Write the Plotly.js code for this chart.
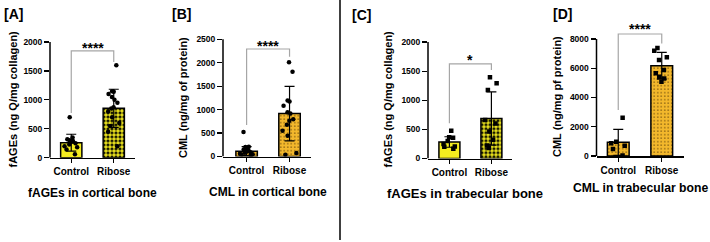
<!DOCTYPE html>
<html><head><meta charset="utf-8">
<script src="https://cdn.plot.ly/plotly-3.0.1.min.js"></script>
<style>html,body{margin:0;padding:0;background:#fff}#chart{width:710px;height:242px}</style>
</head><body><div id="chart"></div>
<script>
const categories = ['Control', 'Ribose'];

// [A] fAGEs in cortical bone
const aMeans = [259, 854];
const aSD = [146, 329];
const aControl = [700, 350, 320, 300, 290, 270, 250, 230, 200, 180, 140, 60];
const aRibose = [1600, 1150, 1140, 1100, 1050, 1000, 950, 870, 850, 800, 700, 600, 550, 450, 200];
const aTicks = [0, 500, 1000, 1500, 2000];

// [B] CML in cortical bone
const bMeans = [113, 915];
const bSD = [96, 580];
const bControl = [520, 210, 200, 170, 150, 130, 120, 100, 90, 80, 60, 50, 40, 30];
const bRibose = [2010, 1810, 1193, 1171, 1080, 945, 916, 796, 760, 675, 547, 441, 72, 36];
const bTicks = [0, 500, 1000, 1500, 2000, 2500];

// [C] fAGEs in trabecular bone
const cMeans = [283, 688];
const cSD = [90, 457];
const cControl = [475, 365, 355, 300, 250, 206, 200, 166];
const cRibose = [1395, 1292, 1178, 663, 600, 463, 321, 223, 180];
const cTicks = [0, 500, 1000, 1500, 2000];

// [D] CML in trabecular bone
const dMeans = [936, 6170];
const dSD = [887, 920];
const dControl = [2618, 980, 866, 700, 478, 30];
const dRibose = [7385, 7200, 6750, 6564, 5880, 5653, 5425, 5300, 5083];
const dTicks = [0, 2000, 4000, 6000, 8000];

const significance = ['****', '****', '*', '****'];
const panelLabels = ['[A]', '[B]', '[C]', '[D]'];
const yTitles = ['fAGEs (ng Q/mg collagen)', 'CML (ng/mg of protein)', 'fAGEs (ng Q/mg collagen)', 'CML (ng/mg pf protein)'];
const bottomTitles = ['fAGEs in cortical bone', 'CML in cortical bone', 'fAGEs in trabecular bone', 'CML in trabecular bone'];

// ---------- styling / layout ----------
const W = 710, H = 242;
const FONT = 'Arial, "Liberation Sans", Helvetica, sans-serif';
const YELLOW = '#f4ec1f';
const GOLD = '#f3b82c';
const CHECK = {color: '#ede51e', shape: '.', fg: '#1a1a00', size: 4, sol: 0.5};
const PLAIN = {color: YELLOW, shape: '', fg: '#000', size: 4, sol: 0.3};
const DOTS = {color: GOLD, shape: '.', fg: '#6e4c0c', size: 3.5, sol: 0.14};

const panels = [
  {means: aMeans, sd: aSD, ctrl: aControl, rib: aRibose, ticks: aTicks, rmax: 2400,
   xpx: [50, 135], xr: [-0.5, 1.5], zeroPx: 157.7, topTickPx: 42,
   pat: [PLAIN, CHECK],
   symbol: 'circle', br: [772, 1846, 1656], starPx: 47.5, starSize: 14,
   label: [13, 14], ytitle: [12, 99.5], btitle: [92.2, 192.7, 12]},
  {means: bMeans, sd: bSD, ctrl: bControl, rib: bRibose, ticks: bTicks, rmax: 3000,
   xpx: [223, 311], xr: [-0.55, 1.5], zeroPx: 156.5, topTickPx: 39.3,
   pat: [DOTS, DOTS],
   symbol: 'circle', br: [673, 2293, 2130], starPx: 45.8, starSize: 14,
   label: [181, 14], ytitle: [183, 98], btitle: [268.3, 191.7, 12]},
  {means: cMeans, sd: cSD, ctrl: cControl, rib: cRibose, ticks: cTicks, rmax: 2400,
   xpx: [428, 512.4], xr: [-0.51, 1.5], zeroPx: 158.5, topTickPx: 42,
   pat: [PLAIN, CHECK],
   symbol: 'square', br: [607, 1623, 1520], starPx: 60, starSize: 14,
   label: [361, 15], ytitle: [387, 99.5], btitle: [465, 193, 13]},
  {means: dMeans, sd: dSD, ctrl: dControl, rib: dRibose, ticks: dTicks, rmax: 9000,
   xpx: [596.5, 683.5], xr: [-0.5, 1.5], zeroPx: 156, topTickPx: 39,
   pat: [DOTS, DOTS],
   symbol: 'square', br: [3145, 8342, 7700], starPx: 29.5, starSize: 14,
   label: [562, 14], ytitle: [557, 97], btitle: [640.5, 188.3, 12.2]}
];

const data = [];
const layout = {
  width: W, height: H, margin: {l: 0, r: 0, t: 0, b: 0},
  paper_bgcolor: '#fff', plot_bgcolor: 'rgba(0,0,0,0)',
  showlegend: false, font: {family: FONT, color: '#000'},
  barmode: 'overlay',
  shapes: [], annotations: []
};
const px2x = p => p / W;
const px2y = p => 1 - p / H;
const bold = t => '<b>' + t + '</b>';

panels.forEach((p, i) => {
  const s = i === 0 ? '' : String(i + 1);
  const xa = 'x' + s, ya = 'y' + s;
  const topTick = p.ticks[p.ticks.length - 1];
  const ppu = (p.zeroPx - p.topTickPx) / topTick;
  const topPx = p.zeroPx - ppu * p.rmax;

  layout['xaxis' + s] = {
    domain: [px2x(p.xpx[0]), px2x(p.xpx[1])], range: p.xr, anchor: ya,
    type: 'category', categoryorder: 'array', categoryarray: categories,
    ticks: 'outside', ticklen: 4, tickwidth: 1.2, tickcolor: '#000',
    showline: true, linewidth: 1.5, linecolor: '#000',
    showgrid: false, zeroline: false, fixedrange: true,
    tickfont: {family: FONT, size: 10, weight: 700, color: '#000'}
  };
  layout['yaxis' + s] = {
    domain: [px2y(p.zeroPx), px2y(topPx)], range: [0, p.rmax], anchor: xa,
    tickmode: 'array', tickvals: p.ticks,
    ticks: 'outside', ticklen: 5, tickwidth: 1.2, tickcolor: '#000',
    showline: false, showgrid: false, zeroline: false, fixedrange: true,
    tickfont: {family: FONT, size: 8.5, weight: 700, color: '#000'}
  };

  // one bar trace per group so each keeps its own fill pattern
  categories.forEach((cat, k) => {
    const q = p.pat[k];
    const marker = {color: q.color, line: {color: '#000', width: 1.5}};
    if (q.shape) {
      marker.pattern = {fillmode: 'replace', shape: q.shape, fgcolor: q.fg, bgcolor: q.color,
        size: q.size, solidity: q.sol};
    }
    data.push({
      type: 'bar', x: [cat], y: [p.means[k]], xaxis: xa, yaxis: ya, width: 0.5,
      marker: marker,
      error_y: {type: 'data', array: [p.sd[k]], visible: true, color: '#000', thickness: 1.2, width: 5},
      hoverinfo: 'skip'
    });
  });

  data.push({
    type: 'box', xaxis: xa, yaxis: ya,
    x: p.ctrl.map(() => categories[0]).concat(p.rib.map(() => categories[1])),
    y: p.ctrl.concat(p.rib),
    boxpoints: 'all', jitter: 0.85, pointpos: 0, width: 0.45, whiskerwidth: 0,
    fillcolor: 'rgba(0,0,0,0)', line: {color: 'rgba(0,0,0,0)', width: 0},
    marker: {color: '#000', size: 4.5, symbol: p.symbol},
    hoverinfo: 'skip'
  });

  // y-axis line only up to the top tick
  layout.shapes.push({type: 'line', xref: xa + ' domain', yref: ya, x0: 0, x1: 0, y0: 0, y1: topTick,
    line: {color: '#000', width: 1.5}});
  // significance bracket
  layout.shapes.push({type: 'path', xref: xa, yref: ya,
    path: `M 0 ${p.br[0]} L 0 ${p.br[1]} L 1 ${p.br[1]} L 1 ${p.br[2]}`,
    line: {color: '#a6a6a6', width: 1.2}});
  layout.annotations.push({xref: xa, yref: 'paper', x: 0.5, y: px2y(p.starPx), text: bold(significance[i]),
    showarrow: false, xanchor: 'center', yanchor: 'middle',
    font: {family: FONT, size: p.starSize, color: '#000'}});

  layout.annotations.push({xref: 'paper', yref: 'paper', x: px2x(p.label[0]), y: px2y(p.label[1]),
    text: bold(panelLabels[i]), showarrow: false, xanchor: 'center', yanchor: 'middle',
    font: {family: FONT, size: 14, color: '#000'}});
  layout.annotations.push({xref: 'paper', yref: 'paper', x: px2x(p.ytitle[0]), y: px2y(p.ytitle[1]),
    text: bold(yTitles[i]), textangle: -90, showarrow: false, xanchor: 'center', yanchor: 'middle',
    font: {family: FONT, size: 11, color: '#000'}});
  layout.annotations.push({xref: 'paper', yref: 'paper', x: px2x(p.btitle[0]), y: px2y(p.btitle[1]),
    text: bold(bottomTitles[i]), showarrow: false, xanchor: 'center', yanchor: 'middle',
    font: {family: FONT, size: p.btitle[2], color: '#000'}});
});

// divider between cortical and trabecular panels
layout.shapes.push({type: 'line', xref: 'paper', yref: 'paper', x0: px2x(340), x1: px2x(340),
  y0: px2y(240), y1: 1, line: {color: '#000', width: 1.5}});

Plotly.newPlot('chart', data, layout, {displayModeBar: false, staticPlot: true});
</script>
</body></html>
